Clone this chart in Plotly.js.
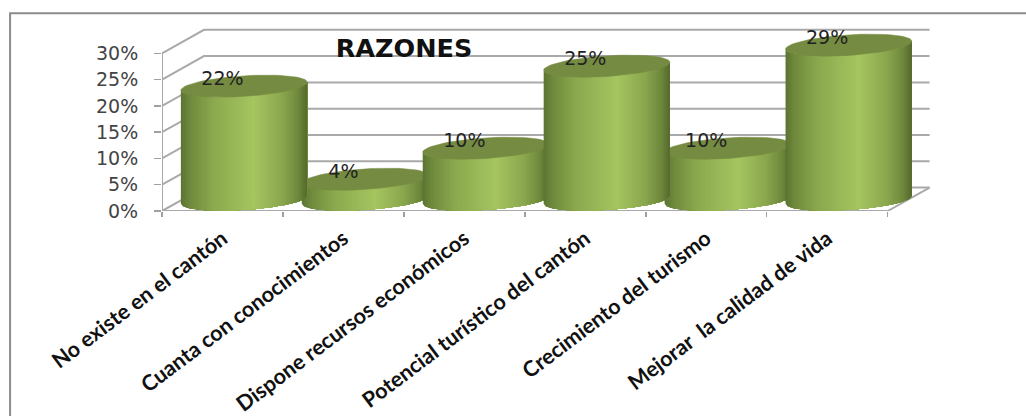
<!DOCTYPE html>
<html>
<head>
<meta charset="utf-8">
<script src="https://cdn.plot.ly/plotly-3.0.1.min.js"></script>
<style>html,body{margin:0;padding:0;background:#fff}#c{width:1026px;height:416px}</style>
</head>
<body>
<div id="c"></div>
<script>
const categories = ["No existe en el cantón","Cuanta con conocimientos","Dispone recursos económicos","Potencial turístico del cantón","Crecimiento del turismo","Mejorar  la calidad de vida"];
const values = [21.6,3.9,9.8,25.4,9.8,29.4];
const yTicks = [0,5,10,15,20,25,30];
const yLabels = ["0%","5%","10%","15%","20%","25%","30%"];
const chartTitle = "RAZONES";

// 3D projection constants, in axis units
const depthX = 0.347, depthY = 4.46;
const barShift = 0.178, barHalf = 0.522;
const baseC = 2.15, radY = 1.955, tilt = 0.76;
const capGap = 1.1;
const stops = [[0,[92,116,50]],[0.07,[110,137,60]],[0.25,[138,168,77]],[0.58,[165,197,96]],[0.8,[139,167,78]],[0.93,[110,136,60]],[1,[84,104,44]]];
const capColor = "#748b41";
const gridColor = "#a9a9a9";
const strips = 63;

function gradient(t){
  for(let i=1;i<stops.length;i++){
    if(t<=stops[i][0]){
      const a=stops[i-1],b=stops[i],f=(t-a[0])/(b[0]-a[0]);
      const c=a[1].map((v,k)=>Math.round(v+(b[1][k]-v)*f));
      return `rgb(${c[0]},${c[1]},${c[2]})`;
    }
  }
  return "rgb(84,104,44)";
}
const lineTrace = (x,y,w,col)=>({x,y,mode:"lines",type:"scatter",cliponaxis:false,hoverinfo:"skip",showlegend:false,line:{color:col||gridColor,width:w||2}});

const traces=[];
// back wall grid and depth lines
yTicks.forEach(v=>{
  traces.push(lineTrace([-0.5,-0.5+depthX,5.5+depthX],[v,v+depthY,v+depthY]));
});
// floor front and right edges, left axis
traces.push(lineTrace([-0.5,5.5,5.5+depthX],[0,0,depthY]));
traces.push(lineTrace([-0.5,-0.5],[0,30]));

// cylinders, shortest first so the taller ones overlap them
const order = values.map((v,i)=>i).sort((a,b)=>values[a]-values[b]);
order.forEach(i=>{
  const cx=i+barShift, top=values[i]+baseC;
  const front=(u,c)=>c+tilt*u-radY*Math.sqrt(Math.max(0,1-u*u));
  // each band runs from its left edge to the cylinder's right edge and the next
  // band paints over it, so no seams appear between bands
  for(let s=0;s<strips;s++){
    const us=[];
    for(let k=s;k<=strips;k++)us.push(-1+2*k/strips);
    const xs=[],ys=[];
    us.forEach(u=>{xs.push(cx+barHalf*u);ys.push(front(u,top));});
    us.slice().reverse().forEach(u=>{xs.push(cx+barHalf*u);ys.push(front(u,baseC));});
    xs.push(xs[0]);ys.push(ys[0]);
    const col=gradient((s+0.5)/strips);
    traces.push({x:xs,y:ys,type:"scatter",mode:"lines",fill:"toself",fillcolor:col,cliponaxis:false,line:{color:col,width:0},hoverinfo:"skip",showlegend:false});
  }
  const xs=[],ys=[];
  for(let k=0;k<=72;k++){
    const th=2*Math.PI*k/72,u=Math.cos(th);
    xs.push(cx+barHalf*u);ys.push(top+tilt*u+radY*Math.sin(th));
  }
  traces.push({x:xs,y:ys,type:"scatter",mode:"lines",fill:"toself",fillcolor:capColor,line:{color:capColor,width:0.5},hoverinfo:"skip",showlegend:false});
});

// data labels and category labels on the overlay axis
traces.push({
  x:categories.map((c,i)=>i),
  y:values.map(v=>v+baseC+capGap),
  xaxis:"x2",type:"scatter",mode:"text",
  text:values.map(v=>Math.round(v)+"%"),
  textposition:"middle center",cliponaxis:false,
  textfont:{family:"DejaVu Sans",size:19,color:"#222222"},
  hoverinfo:"skip",showlegend:false
});

const X0=162,Y0=211,W=774.4,H=184.3;
const layout={
  width:1026,height:416,
  margin:{l:X0,r:1026-X0-W,t:Y0-H,b:416-Y0,pad:0},
  paper_bgcolor:"#fff",plot_bgcolor:"rgba(0,0,0,0)",
  showlegend:false,
  title:{text:"<b>"+chartTitle+"</b>",x:404/1026,xanchor:"center",y:1-48/416,yanchor:"middle",yref:"container",font:{family:"DejaVu Sans",size:25.5,color:"#111"}},
  xaxis:{
    type:"linear",range:[-0.5,5.9],showgrid:false,zeroline:false,showline:false,
    tickmode:"array",tickvals:[-0.5,0.5,1.5,2.5,3.5,4.5,5.5],ticktext:["","","","","","",""],
    ticks:"outside",ticklen:5,tickwidth:1.5,tickcolor:"#a0a0a0"
  },
  xaxis2:{
    type:"linear",overlaying:"x",anchor:"y",side:"bottom",range:[-0.5,5.9],showgrid:false,zeroline:false,showline:false,
    tickmode:"array",tickvals:categories.map((c,i)=>i),ticktext:categories.map(c=>"<b>"+c+"</b>"),ticks:"",tickangle:-37,ticklabelstandoff:10,
    tickfont:{family:"Lato",size:21.5,color:"#111"}
  },
  yaxis:{
    range:[0,35],showgrid:false,zeroline:false,showline:false,
    tickmode:"array",tickvals:yTicks,ticktext:yLabels,
    ticks:"outside",ticklen:7,tickwidth:1.5,tickcolor:"#a0a0a0",ticklabelstandoff:12,
    tickfont:{family:"DejaVu Sans",size:19,color:"#444444"}
  },
  shapes:[{type:"rect",xref:"paper",yref:"paper",
    x0:(10-X0)/W,x1:(1040-X0)/W,y0:(Y0-430)/H,y1:(Y0-13)/H,
    line:{color:"#8c8c8c",width:2},fillcolor:"rgba(0,0,0,0)",layer:"below"}]
};
Plotly.newPlot("c",traces,layout,{displayModeBar:false,staticPlot:true});
</script>
</body>
</html>
